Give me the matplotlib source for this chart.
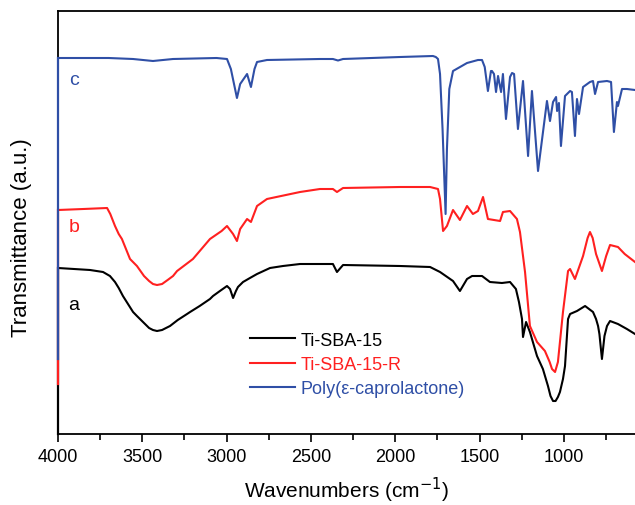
import numpy as np
import matplotlib.pyplot as plt

plt.rcParams["font.family"] = ["Liberation Sans", "DejaVu Sans"]

# =========================
# Spectra (wavenumber, transmittance in arbitrary offset units)
# =========================
wn_a = [4000, 3810, 3733, 3692, 3662, 3640, 3615, 3585, 3555, 3532, 3490, 3460,
        3437, 3413, 3383, 3336, 3290, 3235, 3217, 3160, 3099, 3081, 3040, 2998,
        2980, 2962, 2945, 2933, 2903, 2862, 2820, 2743, 2666, 2565, 2370, 2346,
        2310, 1972, 1794, 1735, 1658, 1617, 1575, 1545, 1486, 1439, 1368, 1320,
        1285, 1267, 1249, 1243, 1225, 1202, 1160, 1125, 1095, 1080, 1065, 1050,
        1036, 1024, 1006, 994, 976, 964, 923, 875, 828, 810, 798, 790, 775, 760,
        745, 727, 680, 627, 579]
t_a = [166, 164, 162, 158, 152, 146, 138, 130, 122, 118, 111, 106,
       104, 103, 104, 108, 114, 120, 122, 128, 135, 138, 143, 148,
       145, 136, 143, 147, 152, 156, 160, 166, 168, 170, 170, 162,
       169, 168, 167, 162, 153, 143, 155, 158, 158, 152, 151, 152,
       145, 132, 115, 97, 112, 102, 78, 65, 48, 38, 33, 33,
       37, 42, 55, 68, 115, 120, 123, 128, 122, 115, 108, 100, 75, 98,
       108, 113, 110, 105, 100]

wn_b = [4000, 3850, 3709, 3690, 3662, 3640, 3621, 3573, 3532, 3490, 3460, 3437,
        3413, 3383, 3350, 3318, 3294, 3200, 3099, 3030, 2998, 2962, 2939, 2920,
        2879, 2856, 2820, 2761, 2565, 2447, 2370, 2346, 2310, 1972, 1794, 1747,
        1735, 1717, 1694, 1658, 1617, 1575, 1540, 1510, 1480, 1451, 1379, 1362,
        1320, 1279, 1261, 1231, 1202, 1160, 1113, 1085, 1071, 1053, 1036, 1006,
        976, 964, 935, 887, 860, 846, 830, 810, 775, 750, 727, 680, 640, 579]
t_b = [224, 225, 226, 220, 208, 200, 195, 175, 168, 158, 153, 150,
       149, 150, 154, 158, 163, 175, 195, 203, 208, 200, 193, 205,
       215, 212, 228, 235, 242, 245, 245, 242, 246, 247, 247, 245,
       235, 203, 208, 224, 214, 228, 220, 223, 237, 215, 213, 222,
       223, 215, 202, 162, 108, 92, 83, 72, 65, 62, 72, 122,
       163, 165, 155, 178, 196, 202, 196, 180, 163, 178, 189, 187, 180, 172]

wn_c = [4000, 3700, 3555, 3437, 3318, 3060, 2998, 2975, 2939, 2920, 2879, 2856,
        2835, 2820, 2761, 2447, 2370, 2340, 2310, 1972, 1777, 1760, 1747, 1735,
        1720, 1702, 1694, 1680, 1658, 1575, 1510, 1486, 1470, 1451, 1433, 1427,
        1415, 1403, 1391, 1373, 1362, 1344, 1320, 1308, 1296, 1273, 1243, 1213,
        1190, 1154, 1101, 1083, 1065, 1047, 1041, 1030, 1018, 994, 964, 953,
        935, 923, 911, 887, 846, 828, 816, 798, 745, 721, 704, 686, 680, 656,
        627, 579]
t_c = [376, 376, 375, 373, 375, 376, 375, 365, 336, 350, 360, 347,
       365, 372, 374, 375, 375, 373.5, 375, 377, 378, 377, 375, 360,
       305, 220, 285, 345, 363, 371, 374, 374, 367, 343, 363, 363,
       360, 342, 358, 342, 360, 315, 357, 361, 360, 305, 353, 278,
       343, 263, 333, 313, 332, 337, 323, 331, 288, 338, 343, 342,
       298, 335, 320, 347, 352, 353, 340, 352, 353, 352, 302, 332, 328, 345,
       345, 344]

# bottom end of the vertical start segment of each trace (drawn over the left spine)
base_a, base_b, base_c = 0, 50, 75

labels = ["Ti-SBA-15", "Ti-SBA-15-R", "Poly(ε-caprolactone)"]
colors = ["black", "#ff2020", "#2f4fa6"]
tags = ["a", "b", "c"]

# =========================
# Figure
# =========================
fig = plt.figure(figsize=(6.35, 5.06), dpi=100)
ax = fig.add_axes([58 / 635, 71 / 506, 1 - 58 / 635, 423 / 506])

series = [(wn_a, t_a, base_a), (wn_b, t_b, base_b), (wn_c, t_c, base_c)]
for (wn, t, base), lab, col in zip(series, labels, colors):
    ax.plot(wn, t, color=col, lw=1.5, label=lab)
    ax.plot([wn[0], wn[0]], [base, t[0]], color=col, lw=1.6,
            clip_on=False, zorder=3)

tag_y = [130, 207, 355]
for tag, col, y in zip(tags, colors, tag_y):
    ax.text(3905, y, tag, color=col, fontsize=14, ha="center", va="center")

ax.set_xlim(4000, 579)
ax.set_ylim(0, 423)
ax.set_xticks([4000, 3500, 3000, 2500, 2000, 1500, 1000])
ax.set_xticks(np.arange(3750, 579, -500), minor=True)
ax.tick_params(axis="x", which="major", direction="out", length=6, width=1.2,
               labelsize=13, pad=4)
ax.tick_params(axis="x", which="minor", direction="out", length=4, width=1.2)
ax.set_yticks([])
ax.spines["right"].set_visible(False)
for s in ["top", "bottom", "left"]:
    ax.spines[s].set_linewidth(1.3)

ax.set_xlabel("Wavenumbers (cm$^{-1}$)", fontsize=15, labelpad=7)
ax.set_ylabel("Transmittance (a.u.)", fontsize=16)
ax.yaxis.set_label_coords(-0.045, 0.466)

leg = ax.legend(loc="upper left", bbox_to_anchor=(0.333, 0.242), frameon=False,
                fontsize=13, handlelength=2.5, handletextpad=0.3,
                labelspacing=0.4, borderpad=0, borderaxespad=0)
for txt, col in zip(leg.get_texts(), colors):
    txt.set_color(col)

plt.savefig("out.png", dpi=100)
